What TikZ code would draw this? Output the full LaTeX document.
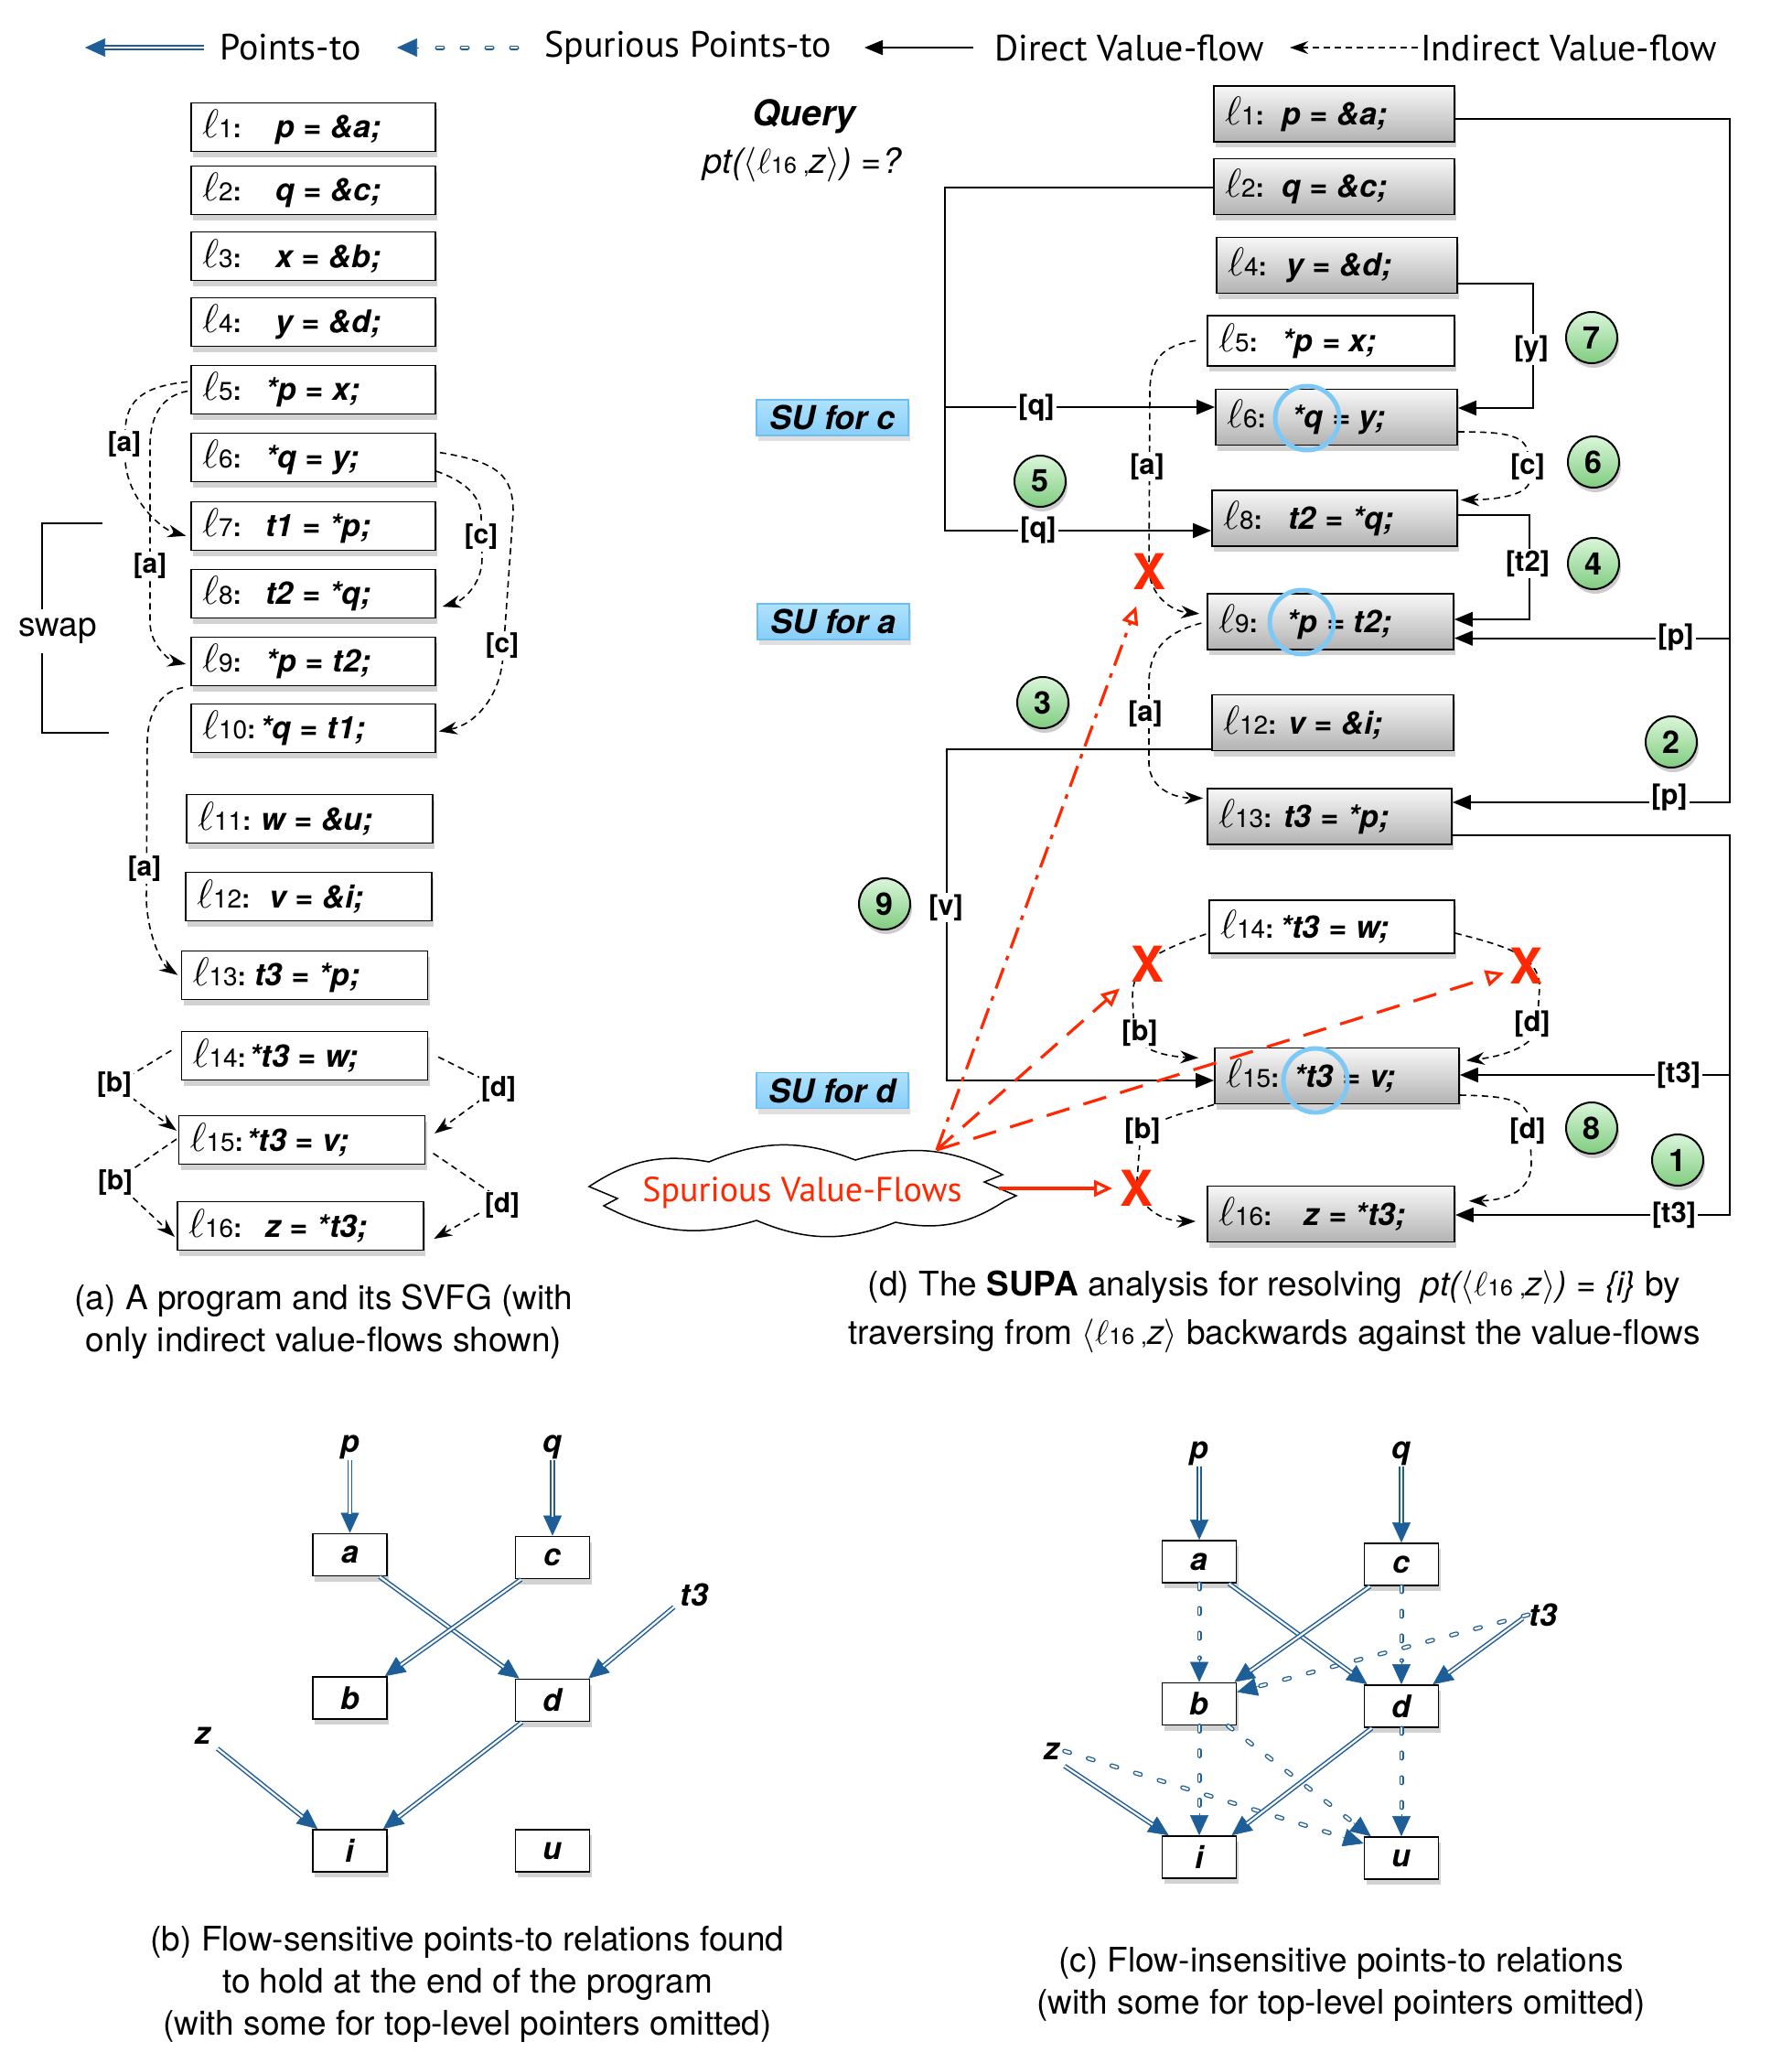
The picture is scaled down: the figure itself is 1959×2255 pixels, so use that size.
\RequirePackage{fix-cm}
\documentclass[tikz,border=0pt]{standalone}
\usepackage{fontspec}
\setmainfont{TeX Gyre Heros}
\newfontfamily\handfont{PT Sans}
\usetikzlibrary{arrows.meta,calc,shadows}

\definecolor{ptblue}{RGB}{30,94,152}
\definecolor{sured}{RGB}{255,40,0}
\definecolor{ringblue}{RGB}{125,200,245}
\definecolor{sutop}{RGB}{175,226,252}
\definecolor{subot}{RGB}{135,206,250}
\definecolor{suedge}{RGB}{110,190,240}

\newcommand\fs[1]{\fontsize{#1}{#1}\selectfont}
\newcommand\lab[1]{{\fs{44}$\ell$}{\fs{28}#1\textbf{:}}}
\newcommand\stm[3]{\makebox[#1pt][l]{\hspace{12pt}\lab{#2}}{\fs{34}\bfseries\itshape\spaceskip=10pt plus 2pt\relax #3}}
\newcommand\ptarrow[2]{%
  \draw[ptblue, line width=0.6pt, -{Triangle[length=22pt,width=20pt]}] ($(#2)!24pt!(#1)$) -- (#2);
  \draw[ptdbl, shorten >=21pt] (#1) -- (#2);}
\newcommand\sparrow[2]{%
  \draw[ptblue, line width=0.6pt, -{Triangle[length=22pt,width=20pt]}] ($(#2)!24pt!(#1)$) -- (#2);
  \draw[spdbl, shorten >=26pt] (#1) -- (#2);}

\tikzset{
  lbox/.style={draw, line width=1.8pt, fill=white, inner sep=0pt, minimum height=53pt,
    text width=#1pt, align=left,
    drop shadow={opacity=0.35,shadow xshift=2pt,shadow yshift=-6pt}},
  gbox/.style={lbox=#1, top color=white!97!black, bottom color=white!70!black, minimum height=61pt},
  dv/.style={line width=2pt, -{Triangle[length=20pt,width=16pt]}},
  iv/.style={line width=1.6pt, dash pattern=on 7pt off 5pt, -{Stealth[length=20pt,width=14pt]}},
  lbl/.style={fill=white, inner sep=2pt, font=\fs{31}\bfseries},
  albl/.style={fill=white, inner sep=2pt, font=\fs{30}\bfseries},
  ptdbl/.style={draw=ptblue, line width=1.5pt, double=white, double distance=2.2pt},
  spdbl/.style={draw=ptblue, line width=1.3pt, double=white, double distance=2.4pt, line cap=round, dash pattern=on 6pt off 21pt},
  pbox/.style={draw, line width=1.8pt, fill=white, minimum width=81pt, minimum height=46pt, inner sep=0pt,
    font=\fs{34}\bfseries\itshape, drop shadow={opacity=0.35,shadow xshift=2pt,shadow yshift=-6pt}},
  pvar/.style={inner sep=1pt, font=\fs{34}\bfseries\itshape},
  badge/.style={circle, draw, line width=2pt, minimum size=56pt, inner sep=0pt,
    top color={rgb,255:red,218;green,246;blue,218}, bottom color={rgb,255:red,128;green,204;blue,128},
    drop shadow={opacity=0.4,shadow xshift=2pt,shadow yshift=-5pt}, font=\fs{34}\bfseries},
  sulab/.style={draw=suedge, line width=1.5pt, top color=sutop, bottom color=subot,
    minimum width=166pt, minimum height=39pt, inner sep=0pt, font=\fs{36}\bfseries\itshape,
    drop shadow={opacity=0.25,shadow xshift=2pt,shadow yshift=-6pt}},
  redx/.style={text=sured, inner sep=0pt, font=\fs{54}\bfseries},
  redarr/.style={draw=sured, line width=3.2pt, -{Triangle[open,length=20pt,width=18pt,fill=white]}},
  ringc/.style={draw=ringblue, line width=5pt},
  legtext/.style={anchor=west, inner sep=0pt, font=\handfont\fs{40}},
  captxt/.style={align=center, inner sep=0pt}
}

\begin{document}
\begin{tikzpicture}[x=1pt,y=-1pt]
\fill[white] (0,0) rectangle (1959,2255);
\useasboundingbox (0,0) rectangle (1959,2255);

% ---------------- legend
\node[legtext] (lg1) at (240,52) {Points-to};
\node[legtext] (lg2) at (595,52) {Spurious Points-to};
\node[legtext] (lg3) at (1087,52) {Direct Value-flow};
\node[legtext] (lg4) at (1553,52) {Indirect Value-flow};
\coordinate (lg1s) at (223,52); \coordinate (lg1e) at (93,52);
\coordinate (lg2s) at (565,52); \coordinate (lg2e) at (434,52);
\coordinate (lg3s) at (1064,52); \coordinate (lg3e) at (945,52);
\coordinate (lg4s) at (1550,52); \coordinate (lg4e) at (1410,52);
\ptarrow{lg1s}{lg1e}
\sparrow{lg2s}{lg2e}
\draw[dv] (lg3s) -- (lg3e);
\draw[iv] (lg4s) -- (lg4e);

% ---------------- panel (a)
\node[lbox=267] (la1) at (342.5,139) {\stm{92}{1}{p = \&a;}};
\node[lbox=267] (la2) at (342.5,208) {\stm{92}{2}{q = \&c;}};
\node[lbox=267] (la3) at (342.5,280) {\stm{92}{3}{x = \&b;}};
\node[lbox=267] (la4) at (342.5,352) {\stm{92}{4}{y = \&d;}};
\node[lbox=267] (la5) at (342.5,426) {\stm{81}{5}{*p = x;}};
\node[lbox=267] (la6) at (342.5,500) {\stm{81}{6}{*q = y;}};
\node[lbox=267] (la7) at (342.5,575) {\stm{81}{7}{t1 = *p;}};
\node[lbox=267] (la8) at (342.5,649) {\stm{81}{8}{t2 = *q;}};
\node[lbox=267] (la9) at (342.5,723) {\stm{81}{9}{*p = t2;}};
\node[lbox=267] (la10) at (342.5,796) {\stm{75}{10}{*q = t1;}};
\node[lbox=269] (la11) at (338.5,895) {\stm{81}{11}{w = \&u;}};
\node[lbox=269] (la12) at (337.5,980) {\stm{91}{12}{v = \&i;}};
\node[lbox=269] (la13) at (333,1066) {\stm{80}{13}{t3 = *p;}};
\node[lbox=269] (la14) at (333,1154) {\stm{74}{14}{*t3 = w;}};
\node[lbox=269] (la15) at (330,1246) {\stm{74}{15}{*t3 = v;}};
\node[lbox=269] (la16) at (328.5,1340) {\stm{96}{16}{z = *t3;}};

\draw[iv, shorten <=3pt, shorten >=5pt] ([yshift=9pt]la5.west) .. controls (160,422) and (138,435) .. (137,470) -- (137,505) .. controls (140,545) and (175,578) .. ([yshift=-12pt]la7.west);
\draw[iv, shorten <=3pt, shorten >=5pt] ([yshift=-1pt]la5.west) .. controls (180,432) and (165,450) .. (164,485) -- (164,680) .. controls (164,705) and (185,722) .. ([yshift=-4pt]la9.west);
\draw[iv, shorten >=7pt] ([yshift=-15pt]la6.east) .. controls (505,525) and (526,540) .. (526,565) -- (527,610) .. controls (527,640) and (505,657) .. ([yshift=-16pt]la8.east);
\draw[iv, shorten <=4pt, shorten >=3pt] ([yshift=6pt]la6.east) .. controls (545,505) and (561,520) .. (561,560) -- (550,715) .. controls (548,760) and (520,792) .. ([yshift=-4pt]la10.east);
\draw[iv, shorten <=8pt, shorten >=4pt] (la9.south west) .. controls (178,755) and (162,775) .. (161,810) -- (160,985) .. controls (162,1025) and (178,1055) .. ([yshift=-2pt]la13.west);
\draw[iv, shorten <=12pt, shorten >=2pt] ([yshift=12pt]la14.west) -- (125,1186) -- ([yshift=9pt]la15.west);
\draw[iv, shorten <=2pt, shorten >=3pt] ([yshift=2pt]la15.west) -- (126,1291) -- ([yshift=-14pt]la16.west);
\draw[iv, shorten <=12pt, shorten >=12pt] ([yshift=4pt]la14.east) -- (545,1188) -- (la15.east);
\draw[iv, shorten <=10pt, shorten >=12pt] ([yshift=-9pt]la15.east) -- (549,1312) -- ([yshift=-20pt]la16.east);

\node[albl] (a1) at (136,486) {[a]};
\node[albl] (a2) at (164,619) {[a]};
\node[albl] (a3) at (526,587) {[c]};
\node[albl] (a4) at (549,706) {[c]};
\node[albl] (a5) at (158,950) {[a]};
\node[albl] (a6) at (125,1186) {[b]};
\node[albl] (a7) at (126,1293) {[b]};
\node[albl] (a8) at (545,1191) {[d]};
\node[albl] (a9) at (549,1318) {[d]};

\node[font=\fs{37}, inner sep=2pt] (swap) at (63,690) {swap};
\draw[line width=1.5pt] (112,572) -- (46,572) -- (46,666);
\draw[line width=1.5pt] (46,714) -- (46,801) -- (119,801);

\node[captxt, font=\fontsize{37}{46}\selectfont] (capa) at (354,1445) {(a) A program and its SVFG (with\\only indirect value-flows shown)};

% ---------------- panel (d)
\node[font=\fs{39}\bfseries\itshape] (query) at (879,127) {Query};
\node[font=\fs{38}] (qexpr) at (877,180) {{\itshape pt(}$\langle\ell${\fs{25}16\ ,}{\itshape z}$\rangle${\itshape )\ =?}};

\node[sulab] (suc) at (910,456.5) {SU for c};
\node[sulab] (sua) at (911,679.5) {SU for a};
\node[sulab] (sud) at (910,1192) {SU for d};

\node[gbox=263] (da1) at (1458.5,124.5) {\stm{74}{1}{p = \&a;}};
\node[gbox=263] (da2) at (1458.5,204) {\stm{74}{2}{q = \&c;}};
\node[gbox=263] (da4) at (1461.5,290) {\stm{76}{4}{y = \&d;}};
\node[lbox=270, minimum height=55pt] (da5) at (1455,372.5) {\stm{81}{5}{*p = x;}};
\node[gbox=264] (da6) at (1461,456) {\stm{83}{6}{*q = y;}};
\node[gbox=268] (da8) at (1459,566.5) {\stm{83}{8}{t2 = *q;}};
\node[gbox=269] (da9) at (1454.5,679.5) {\stm{86}{9}{*p = t2;}};
\node[gbox=264] (da12) at (1457,790) {\stm{83}{12}{v = \&i;}};
\node[gbox=267] (da13) at (1453.5,892.5) {\stm{83}{13}{t3 = *p;}};
\node[lbox=268, minimum height=58pt] (da14) at (1456,1013) {\stm{77}{14}{*t3 = w;}};
\node[gbox=267] (da15) at (1461.5,1176) {\stm{86}{15}{*t3 = v;}};
\node[gbox=270] (da16) at (1455,1327) {\stm{105}{16}{z = *t3;}};

% direct value-flows
\coordinate (pTop) at (1891,130); \coordinate (pBot) at (1891,877); \coordinate (pMid) at (1891,697.6);
\draw[dv] (da1.east |- pTop) -- (pTop) -- (pBot) -- (da13.east |- pBot);
\draw[dv] (pMid) -- (da9.east |- pMid);
\coordinate (tTop) at (1891,913); \coordinate (tBot) at (1891,1328); \coordinate (tMid) at (1891,1175);
\draw[dv] (da13.east |- tTop) -- (tTop) -- (tBot) -- (da16.east |- tBot);
\draw[dv] (tMid) -- (da15.east |- tMid);
\coordinate (yA) at (1676,310); \coordinate (yB) at (1676,446);
\draw[dv] (da4.east |- yA) -- (yA) -- (yB) -- (da6.east |- yB);
\coordinate (t2A) at (1672,563); \coordinate (t2B) at (1672,677);
\draw[dv] (da8.east |- t2A) -- (t2A) -- (t2B) -- (da9.east |- t2B);
\coordinate (qA) at (1033,205); \coordinate (qB) at (1033,580); \coordinate (qM) at (1033,445);
\draw[dv] (da2.west |- qA) -- (qA) -- (qB) -- (da8.west |- qB);
\draw[dv] (qM) -- (da6.west |- qM);
\coordinate (vA) at (1035,819); \coordinate (vB) at (1035,1181);
\draw[dv] (da12.west |- vA) -- (vA) -- (vB) -- (da15.west |- vB);

% indirect value-flows
\draw[iv, shorten <=12pt, shorten >=8pt] ([yshift=2pt]da5.west) .. controls (1270,378) and (1257,392) .. (1257,430) -- (1256,620) .. controls (1256,650) and (1280,668) .. ([yshift=8pt]da9.west);
\draw[iv, shorten <=6pt, shorten >=4pt] (da9.west) .. controls (1280,690) and (1257,705) .. (1256,745) -- (1256,835) .. controls (1257,860) and (1280,872) .. ([yshift=20pt]da13.west);
\draw[iv, shorten <=3pt, shorten >=17pt] ([yshift=-7pt]da14.west) .. controls (1270,1038) and (1238,1050) .. (1238,1090) -- (1240,1128) .. controls (1245,1150) and (1280,1155) .. ([yshift=19pt]da15.west);
\draw[iv, shorten >=12pt] (da15.south west) .. controls (1290,1218) and (1250,1225) .. (1246,1250) -- (1243,1290) .. controls (1243,1320) and (1270,1335) .. ([yshift=-8pt]da16.west);
\draw[iv, shorten >=7pt] ([yshift=-7pt]da14.east) .. controls (1650,1035) and (1683,1045) .. (1683,1080) -- (1680,1125) .. controls (1675,1145) and (1640,1155) .. ([yshift=16pt]da15.east);
\draw[iv, shorten >=15pt] ([yshift=-21pt]da15.east) .. controls (1640,1198) and (1670,1200) .. (1672,1225) -- (1674,1270) .. controls (1675,1300) and (1650,1312) .. ([yshift=14pt]da16.east);
\draw[iv, shorten >=3pt] ([yshift=-16pt]da6.east) .. controls (1640,472) and (1668,474) .. (1670,495) -- (1672,525) .. controls (1672,540) and (1640,546) .. ([yshift=20pt]da8.east);

% labels
\node[lbl] (dl1) at (1832,697) {[p]};
\node[lbl] (dl2) at (1825,872) {[p]};
\node[lbl] (dl3) at (1835,1175) {[t3]};
\node[lbl] (dl4) at (1830,1328) {[t3]};
\node[lbl] (dl5) at (1674,382) {[y]};
\node[lbl] (dl6) at (1670,616) {[t2]};
\node[lbl] (dl7) at (1133,446) {[q]};
\node[lbl] (dl8) at (1135,580) {[q]};
\node[lbl] (dl9) at (1034,992) {[v]};
\node[lbl] (dl10) at (1254,510) {[a]};
\node[lbl] (dl11) at (1252,780) {[a]};
\node[lbl] (dl12) at (1246,1129) {[b]};
\node[lbl] (dl13) at (1249,1236) {[b]};
\node[lbl] (dl14) at (1675,1119) {[d]};
\node[lbl] (dl15) at (1670,1236) {[d]};
\node[lbl] (dl16) at (1670,510) {[c]};

% rings
\draw[ringc] (1429,457) circle[radius=35pt];
\draw[ringc] (1423,680) circle[radius=35pt];
\draw[ringc] (1438,1181) circle[radius=35pt];

% badges
\node[badge] (b5) at (1137,526) {5};
\node[badge] (b7) at (1740,369) {7};
\node[badge] (b6) at (1742,505) {6};
\node[badge] (b4) at (1742,616) {4};
\node[badge] (b3) at (1140,768) {3};
\node[badge] (b2) at (1827,811) {2};
\node[badge] (b9) at (967,988) {9};
\node[badge] (b8) at (1740,1233) {8};
\node[badge] (b1) at (1834,1268) {1};

% spurious value-flows
\node[redx] (x1) at (1256,625) {X};
\node[redx] (x2) at (1254,1054) {X};
\node[redx] (x3) at (1242,1299) {X};
\node[redx] (x4) at (1668,1056) {X};
\draw[line width=1.5pt, fill=white] (644,1297) to[bend left=22] (775,1270) to[bend left=22] (935,1268)
  to[bend left=22] (1096,1284) -- (1076,1292) -- (1111,1307) -- (1098,1313) to[bend left=22] (979,1336)
  to[bend left=22] (827,1334) to[bend left=22] (660,1318) -- (675,1310) -- cycle;
\node[inner sep=0pt, text=sured, font=\handfont\fs{38}] (cloud) at (877,1304) {Spurious Value-Flows};
\coordinate (sv) at (1024,1257);
\coordinate (cloudR) at (1092,1299);
\draw[redarr, dash pattern=on 24pt off 9pt on 5pt off 9pt, shorten >=40pt] (sv) -- (x1.center);
\draw[redarr, dash pattern=on 24pt off 14pt, shorten >=40pt] (sv) -- (x2.center);
\draw[redarr, dash pattern=on 26pt off 16pt, shorten >=25pt] (sv) -- (x4.center);
\draw[redarr, shorten >=26pt] (cloudR) -- (x3.center);

\node[captxt, font=\fontsize{37}{53}\selectfont] (capd) at (1393,1434) {(d) The \textbf{SUPA} analysis for resolving\ \ {\itshape pt(}$\langle\ell${\fs{25}16\ ,}{\itshape z}$\rangle${\itshape ) = \{i\}} by\\traversing from $\langle\ell${\fs{25}16\ ,}{\itshape z}$\rangle$ backwards against the value-flows};

% ---------------- panel (b)
\node[pbox] (ba) at (382.5,1699.5) {a};
\node[pbox] (bc) at (604,1702.5) {c};
\node[pbox] (bb) at (382.5,1856) {b};
\node[pbox] (bd) at (604,1858.5) {d};
\node[pbox] (bi) at (382.5,2023) {i};
\node[pbox] (bu) at (604,2023) {u};
\node[pvar] (bp) at (382.5,1582) {p};
\node[pvar] (bq) at (604,1582) {q};
\node[pvar] (bt3) at (759,1743) {t3};
\node[pvar] (bz) at (222,1897) {z};
\ptarrow{bp.south}{ba.north}
\ptarrow{bq.south}{bc.north}
\ptarrow{[xshift=-9pt]ba.south east}{[xshift=5pt]bd.north west}
\ptarrow{[xshift=7pt]bc.south west}{[xshift=-3pt]bb.north east}
\ptarrow{[xshift=-6pt]bt3.south west}{[xshift=-2pt]bd.north east}
\ptarrow{[xshift=8pt]bd.south west}{[xshift=-5pt]bi.north east}
\ptarrow{[xshift=6pt,yshift=-4pt]bz.south east}{[xshift=6pt]bi.north west}

\node[captxt, font=\fontsize{37}{46}\selectfont] (capb) at (511,2169) {(b) Flow-sensitive points-to relations found\\to hold at the end of the program\\(with some for top-level pointers omitted)};

% ---------------- panel (c)
\node[pbox] (ca) at (1311,1707) {a};
\node[pbox] (cc) at (1532,1710) {c};
\node[pbox] (cb) at (1311,1862.5) {b};
\node[pbox] (cd) at (1532,1865) {d};
\node[pbox] (ci) at (1311,2030) {i};
\node[pbox] (cu) at (1532,2031) {u};
\node[pvar] (cp) at (1311,1589) {p};
\node[pvar] (cq) at (1532,1589) {q};
\node[pvar] (ct3) at (1687,1765) {t3};
\node[pvar] (cz) at (1150,1914) {z};
\sparrow{ca.south}{cb.north}
\sparrow{cc.south}{cd.north}
\sparrow{cb.south}{ci.north}
\sparrow{cd.south}{cu.north}
\sparrow{ct3.west}{[yshift=13pt]cb.east}
\sparrow{[xshift=-10pt]cb.south east}{[xshift=8pt]cu.north west}
\sparrow{[xshift=4pt]cz.east}{[yshift=16pt]cu.west}
\ptarrow{cp.south}{ca.north}
\ptarrow{cq.south}{cc.north}
\ptarrow{[xshift=-9pt]ca.south east}{[xshift=4pt]cd.north west}
\ptarrow{[xshift=7pt]cc.south west}{[xshift=-3pt]cb.north east}
\ptarrow{[xshift=-6pt,yshift=-4pt]ct3.west}{[xshift=-7pt]cd.north east}
\ptarrow{[xshift=9pt]cd.south west}{[xshift=-6pt]ci.north east}
\ptarrow{[xshift=4pt,yshift=-6pt]cz.south east}{[xshift=8pt]ci.north west}

\node[captxt, font=\fontsize{37}{46}\selectfont] (capc) at (1466,2169) {(c) Flow-insensitive points-to relations\\(with some for top-level pointers omitted)};
\end{tikzpicture}
\end{document}
